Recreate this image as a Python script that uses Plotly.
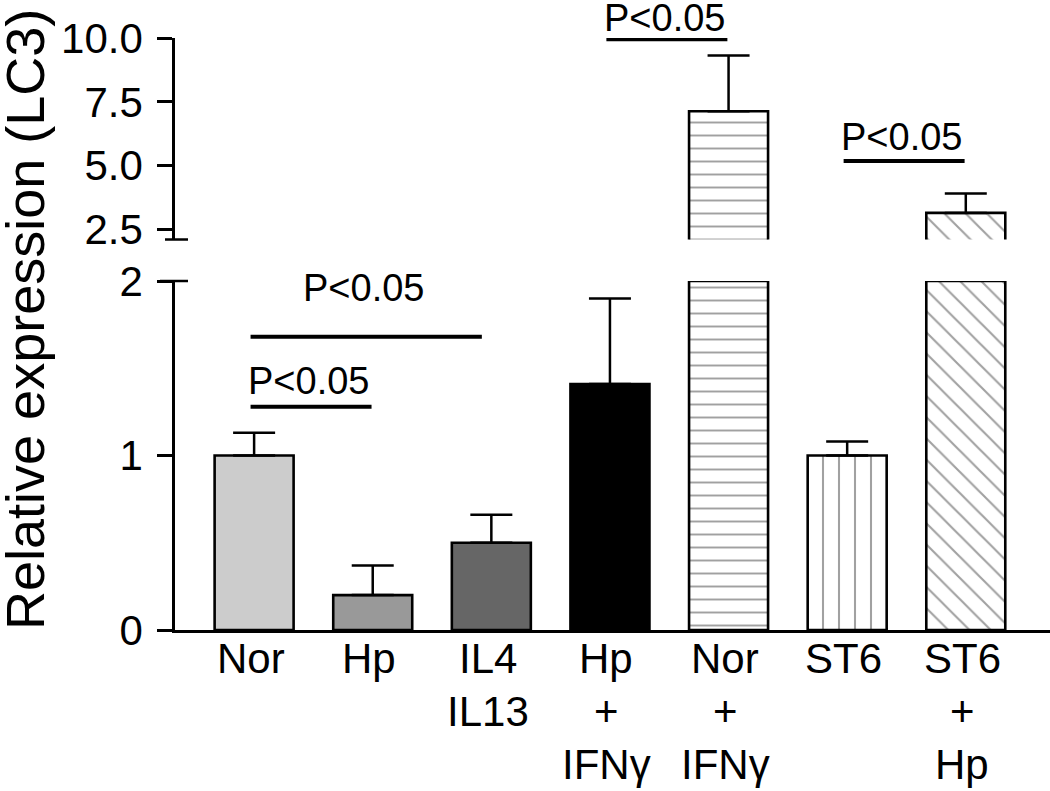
import plotly.graph_objects as go

# ---- data ----
cat_lines = [["Nor"], ["Hp"], ["IL4", "IL13"], ["Hp", "+", "IFNγ"],
             ["Nor", "+", "IFNγ"], ["ST6"], ["ST6", "+", "Hp"]]
means = [1.00, 0.20, 0.50, 1.41, 7.13, 1.00, 3.15]
sem = [0.13, 0.17, 0.16, 0.49, 2.18, 0.08, 0.76]
fill_colors = ["#cccccc", "#999999", "#666666", "#000000", "#ffffff", "#ffffff", "#ffffff"]
pattern_shapes = ["", "", "", "", "-", "|", "\\"]
low_ticks = [0, 1, 2]
high_ticks = [2.5, 5.0, 7.5, 10.0]
# significance comparisons: (from index, to index, level, axis)
comp_from = [0, 0, 3, 5]
comp_to = [1, 2, 4, 6]
comp_level = [1.28, 1.68, 9.95, 5.18]
comp_axis = ["y", "y", "y2", "y2"]
comp_text = ["P<0.05", "P<0.05", "P<0.05", "P<0.05"]

x = list(range(len(means)))
FONT = "Arial, Liberation Sans, sans-serif"

# pixel-layout helpers
W, H = 1050, 791
ML, MR, MT, MB = 175, 0, 38, 161
PW, PH = W - ML - MR, H - MT - MB


def px_x(p):
    return (p - ML) / PW


def px_y(p):
    return (H - MB - p) / PH


def bar_trace(yaxis):
    return go.Bar(
        x=x, y=means, yaxis=yaxis, width=0.666,
        marker=dict(
            color=fill_colors,
            line=dict(color="black", width=2.6),
            pattern=dict(shape=pattern_shapes, fgcolor="black", bgcolor="white",
                         size=[13, 13, 13, 13, 13, 16, 15],
                         solidity=[0.15, 0.15, 0.15, 0.15, 0.15, 0.13, 0.14]),
        ),
        error_y=dict(type="data", array=sem, arrayminus=[0] * len(sem), symmetric=False,
                     color="black", thickness=2.5, width=21),
        showlegend=False, hoverinfo="skip",
    )


fig = go.Figure()
fig.add_trace(bar_trace("y"))
fig.add_trace(bar_trace("y2"))

tickfont = dict(family=FONT, size=42, color="black")
fig.update_layout(
    width=W, height=H,
    margin=dict(l=ML, r=MR, t=MT, b=MB),
    paper_bgcolor="white", plot_bgcolor="white",
    xaxis=dict(range=[-0.667, 6.71], showline=True, linecolor="black", linewidth=2.6,
               showticklabels=False, ticks="", showgrid=False, zeroline=False,
               anchor="y", fixedrange=True),
    yaxis=dict(domain=[0, px_y(281)], range=[0, 2], tickvals=low_ticks,
               ticktext=[str(v) for v in low_ticks],
               ticks="outside", ticklen=15, tickwidth=2.5, tickcolor="black",
               showline=True, linecolor="black", linewidth=2.5,
               showgrid=False, zeroline=False, tickfont=tickfont,
               ticklabelstandoff=6, anchor="x"),
    yaxis2=dict(domain=[px_y(239.5), 1], range=[2.109, 10], tickvals=high_ticks,
                ticktext=[f"{v:.1f}" for v in high_ticks],
                ticks="outside", ticklen=15, tickwidth=2.5, tickcolor="black",
                showline=True, linecolor="black", linewidth=2.5,
                showgrid=False, zeroline=False, tickfont=tickfont,
                ticklabelstandoff=6, anchor="x"),
)

shapes = []
# axis-break marks
shapes.append(dict(type="line", xref="paper", yref="y2 domain",
                   x0=px_x(165), x1=px_x(188), y0=0, y1=0,
                   line=dict(color="black", width=2.5)))
shapes.append(dict(type="line", xref="paper", yref="y domain",
                   x0=px_x(160), x1=px_x(188), y0=1, y1=1,
                   line=dict(color="black", width=2.5)))
# top edges of bars cut at the bottom segment
for i, m in enumerate(means):
    if m > 2:
        shapes.append(dict(type="line", xref="x", yref="y",
                           x0=i - 0.333, x1=i + 0.333, y0=2, y1=2,
                           line=dict(color="black", width=2.6)))

annotations = []
offs = [26, 49, 21, 24.5]
for a, b, lvl, ax, t, o in zip(comp_from, comp_to, comp_level, comp_axis, comp_text, offs):
    x0 = a - 0.03
    x1 = b - (0.08 if b - a > 1 else 0.01)
    shapes.append(dict(type="line", xref="x", yref=ax, x0=x0, x1=x1, y0=lvl, y1=lvl,
                       line=dict(color="black", width=4)))
    annotations.append(dict(x=(x0 + x1) / 2 - 0.02, y=lvl, xref="x", yref=ax, text=t,
                            showarrow=False, yanchor="middle", yshift=o,
                            font=dict(family=FONT, size=38, color="black")))

# category labels
row_px = [658, 711, 764]
for i, lines in enumerate(cat_lines):
    for r, s in enumerate(lines):
        annotations.append(dict(x=i - 0.03, y=px_y(row_px[r]), xref="x", yref="paper", text=s,
                                showarrow=False, xanchor="center", yanchor="middle",
                                font=dict(family=FONT, size=42, color="black")))

# y-axis title
annotations.append(dict(x=px_x(25), y=px_y(320), xref="paper", yref="paper",
                        text="Relative expression (LC3)", textangle=-90, showarrow=False,
                        xanchor="center", yanchor="middle",
                        font=dict(family=FONT, size=54, color="black")))

fig.update_layout(shapes=shapes, annotations=annotations)
fig.write_html("out.html", config={"displayModeBar": False},
               post_script="document.body.style.margin='0';document.body.style.overflow='hidden';")
